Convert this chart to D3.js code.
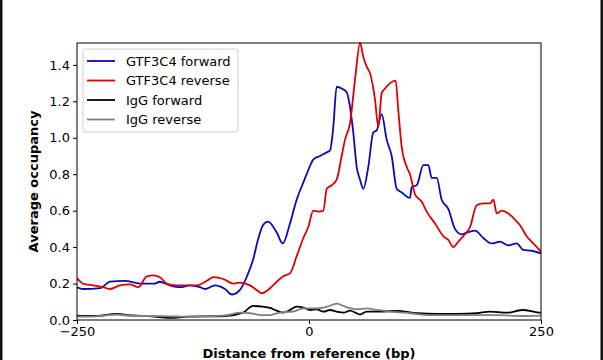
<!DOCTYPE html>
<html>
<head>
<meta charset="utf-8">
<script src="https://cdn.jsdelivr.net/npm/d3@7"></script>
<style>
  body { margin: 0; background: #fff; }
  svg { display: block; font-family: "DejaVu Sans", sans-serif; }
</style>
</head>
<body>
<div id="chart"></div>
<script>
var w = 603;
var h = 360;
var margin = { top: 43, right: 62, bottom: 40, left: 77 };

// series: [distance (bp), average occupancy]
var gtfForward = [
  [-250, 0.18], [-243.5, 0.17], [-225, 0.175], [-214.4, 0.21], [-198.3, 0.215],
  [-182.1, 0.2], [-166, 0.2], [-161, 0.21], [-149.8, 0.19], [-139, 0.18],
  [-128.2, 0.19], [-117.5, 0.18], [-112.1, 0.17], [-101.3, 0.19], [-90.5, 0.17],
  [-83, 0.14], [-74.4, 0.165], [-66.8, 0.24], [-60.3, 0.33], [-55, 0.44],
  [-49.6, 0.52], [-44.2, 0.54], [-34.8, 0.48], [-28.3, 0.42], [-20.5, 0.53],
  [-13.3, 0.66], [-6.5, 0.75], [-2.5, 0.8], [4.6, 0.88], [11.9, 0.9],
  [19.1, 0.92], [22.6, 0.93], [26.2, 1.06], [29.8, 1.28], [35.2, 1.27],
  [40.6, 1.25], [44.2, 1.17], [47.7, 1.03], [51.4, 0.84], [55, 0.77],
  [58.5, 0.72], [63.9, 0.84], [69.3, 1.03], [72.9, 1.04], [78.3, 1.13],
  [83.7, 0.99], [89.1, 0.9], [94.5, 0.72], [99.9, 0.7], [108.8, 0.67],
  [110.7, 0.73], [116.1, 0.74], [123.2, 0.85], [128.6, 0.85], [132.2, 0.78],
  [137.6, 0.78], [143, 0.66], [150.1, 0.61], [157.3, 0.5], [164.5, 0.47],
  [169.9, 0.48], [178.9, 0.49], [187.8, 0.45], [196.9, 0.42], [205.8, 0.43],
  [214.8, 0.41], [223.8, 0.42], [230.9, 0.385], [240, 0.38], [250, 0.366]
];

var gtfReverse = [
  [-250, 0.23], [-243.5, 0.2], [-232.4, 0.19], [-221.7, 0.18], [-214.4, 0.17],
  [-203.7, 0.19], [-192.9, 0.195], [-183.9, 0.18], [-174.9, 0.24], [-167.8, 0.245],
  [-160.6, 0.235], [-153.3, 0.2], [-142.6, 0.19], [-131.8, 0.19], [-121, 0.19],
  [-110.2, 0.215], [-103.1, 0.235], [-92.3, 0.225], [-81.6, 0.2], [-74.4, 0.205],
  [-63.6, 0.19], [-56.4, 0.165], [-51, 0.147], [-42, 0.174], [-34.8, 0.21],
  [-27.7, 0.24], [-20.5, 0.256], [-13.3, 0.35], [-6.1, 0.45], [-0.8, 0.51],
  [4.6, 0.6], [10, 0.595], [15.4, 0.6], [19.1, 0.72], [24.5, 0.74],
  [29.8, 0.77], [35.2, 0.9], [38.8, 0.99], [44.2, 1.08], [49.6, 1.32],
  [55, 1.52], [58.5, 1.445], [62.2, 1.39], [65.7, 1.355], [71.1, 1.21],
  [74.7, 1.06], [78.3, 1.245], [81.9, 1.27], [87.3, 1.3], [93.4, 1.314],
  [96.2, 1.15], [99.9, 0.95], [105.3, 0.84], [108.8, 0.8], [114.2, 0.69],
  [121.4, 0.65], [126.8, 0.595], [135.8, 0.53], [144.7, 0.46], [150.1, 0.44],
  [155.5, 0.4], [160.9, 0.43], [166.3, 0.46], [173.5, 0.51], [180.7, 0.63],
  [187.8, 0.64], [195, 0.64], [198.7, 0.66], [202.3, 0.585], [207.7, 0.6],
  [214.8, 0.585], [220.2, 0.56], [227.4, 0.52], [234.6, 0.46], [241.7, 0.42],
  [250, 0.375]
];

var iggForward = [
  [-250, 0.024], [-230, 0.022], [-207, 0.033], [-190, 0.025], [-170, 0.02],
  [-150, 0.012], [-130, 0.018], [-110, 0.02], [-90, 0.022], [-71, 0.04],
  [-60.3, 0.077], [-49.6, 0.073], [-42, 0.066], [-34.8, 0.051], [-27.7, 0.04],
  [-20.5, 0.055], [-13.3, 0.073], [-6.1, 0.068], [1.1, 0.055], [8.3, 0.059],
  [15.4, 0.046], [22.6, 0.055], [29.8, 0.046], [37, 0.04], [44.2, 0.051],
  [51.4, 0.037], [55, 0.03], [62.2, 0.046], [76.5, 0.046], [94.8, 0.05],
  [116.4, 0.037], [137.9, 0.033], [159.5, 0.033], [181, 0.037], [195, 0.046],
  [213.4, 0.04], [230.6, 0.055], [245.7, 0.042], [250, 0.04]
];

var iggReverse = [
  [-250, 0.018], [-230, 0.02], [-207, 0.03], [-190, 0.022], [-170, 0.022],
  [-150, 0.02], [-130, 0.018], [-110, 0.02], [-90, 0.025], [-74.4, 0.04],
  [-63.6, 0.037], [-51, 0.027], [-42, 0.027], [-34.8, 0.037], [-20.5, 0.045],
  [-17.2, 0.046], [-6.1, 0.064], [8.6, 0.064], [19.4, 0.073], [30.2, 0.09],
  [37, 0.077], [51.7, 0.059], [62.5, 0.064], [73.3, 0.055], [87.3, 0.046],
  [108.8, 0.037], [130.4, 0.027], [151.9, 0.027], [181, 0.027], [202.6, 0.027],
  [230.6, 0.022], [250, 0.024]
];

var seriesNames = ["GTF3C4 forward", "GTF3C4 reverse", "IgG forward", "IgG reverse"];
var seriesColors = ["#0a0ab4", "#e00000", "#000000", "#808080"];
var xTicks = [-250, 0, 250];
var yTicks = [0, 0.2, 0.4, 0.6, 0.8, 1.0, 1.2, 1.4];

var series = [gtfForward, gtfReverse, iggForward, iggReverse];

var svg = d3
  .select("#chart")
  .append("svg")
  .attr("width", w)
  .attr("height", h);

// outer frame edges seen in the picture
svg.append("rect").attr("x", 0).attr("y", 0).attr("width", 2.5).attr("height", h).attr("fill", "#111");
svg.append("rect").attr("x", 600.5).attr("y", 0).attr("width", 2.5).attr("height", h).attr("fill", "#111");

const xScale = d3
  .scaleLinear()
  .domain([-250, 250])
  .range([margin.left, w - margin.right]);

const yScale = d3
  .scaleLinear()
  .domain([0, 1.52])
  .range([h - margin.bottom, margin.top]);

var line = d3
  .line()
  .curve(d3.curveMonotoneX)
  .x(function (d) { return xScale(d[0]); })
  .y(function (d) { return yScale(d[1]); });

svg
  .append("defs")
  .append("clipPath")
  .attr("id", "plotclip")
  .append("rect")
  .attr("x", margin.left)
  .attr("y", margin.top - 1)
  .attr("width", w - margin.left - margin.right)
  .attr("height", h - margin.top - margin.bottom + 1);

// draw IgG first so GTF3C4 lines sit on top
var order = [2, 3, 0, 1];
svg
  .append("g")
  .attr("clip-path", "url(#plotclip)")
  .selectAll("path")
  .data(order)
  .enter()
  .append("path")
  .attr("d", function (i) { return line(series[i]); })
  .attr("fill", "none")
  .attr("stroke", function (i) { return seriesColors[i]; })
  .attr("stroke-width", 1.8)
  .attr("stroke-linejoin", "round");

// Axes
var xAxis = d3.axisBottom(xScale)
  .tickValues(xTicks)
  .tickSize(4)
  .tickPadding(3)
  .tickFormat(function (d) { return d < 0 ? "\u2212" + Math.abs(d) : d; });

var yAxis = d3.axisLeft(yScale)
  .tickValues(yTicks)
  .tickSize(4)
  .tickPadding(3)
  .tickFormat(d3.format(".1f"));

svg.append("g")
  .attr("transform", "translate(0," + (h - margin.bottom) + ")")
  .call(xAxis)
  .call(function (g) { g.select(".domain").remove(); });

svg.append("g")
  .attr("transform", "translate(" + margin.left + ",0)")
  .call(yAxis)
  .call(function (g) { g.select(".domain").remove(); });

svg.selectAll(".tick text")
  .attr("font-size", 13)
  .attr("font-family", "DejaVu Sans")
  .attr("fill", "#000");

// axes box
svg.append("rect")
  .attr("x", margin.left)
  .attr("y", margin.top)
  .attr("width", w - margin.left - margin.right)
  .attr("height", h - margin.top - margin.bottom)
  .attr("fill", "none")
  .attr("stroke", "#000")
  .attr("stroke-width", 1);

// Axis labels
svg.append("text")
  .attr("x", (margin.left + w - margin.right) / 2)
  .attr("y", 358)
  .attr("text-anchor", "middle")
  .attr("font-size", 13)
  .attr("font-weight", "bold")
  .text("Distance from reference (bp)");

svg.append("text")
  .attr("transform", "translate(38," + ((margin.top + h - margin.bottom) / 2) + ") rotate(-90)")
  .attr("text-anchor", "middle")
  .attr("font-size", 13)
  .attr("font-weight", "bold")
  .text("Average occupancy");

// Legend
var legend = svg.append("g").attr("transform", "translate(83,49)");

legend.append("rect")
  .attr("width", 155)
  .attr("height", 83)
  .attr("rx", 3)
  .attr("fill", "#fff")
  .attr("fill-opacity", 0.8)
  .attr("stroke", "#d0d0d0");

var items = legend.selectAll("g.item")
  .data(seriesNames)
  .enter()
  .append("g")
  .attr("class", "item")
  .attr("transform", function (d, i) { return "translate(0," + (12 + i * 19.5) + ")"; });

items.append("line")
  .attr("x1", 4)
  .attr("x2", 32)
  .attr("stroke", function (d, i) { return seriesColors[i]; })
  .attr("stroke-width", 1.8);

items.append("text")
  .attr("x", 43)
  .attr("dy", "0.35em")
  .attr("font-size", 13)
  .text(function (d) { return d; });
</script>
</body>
</html>
